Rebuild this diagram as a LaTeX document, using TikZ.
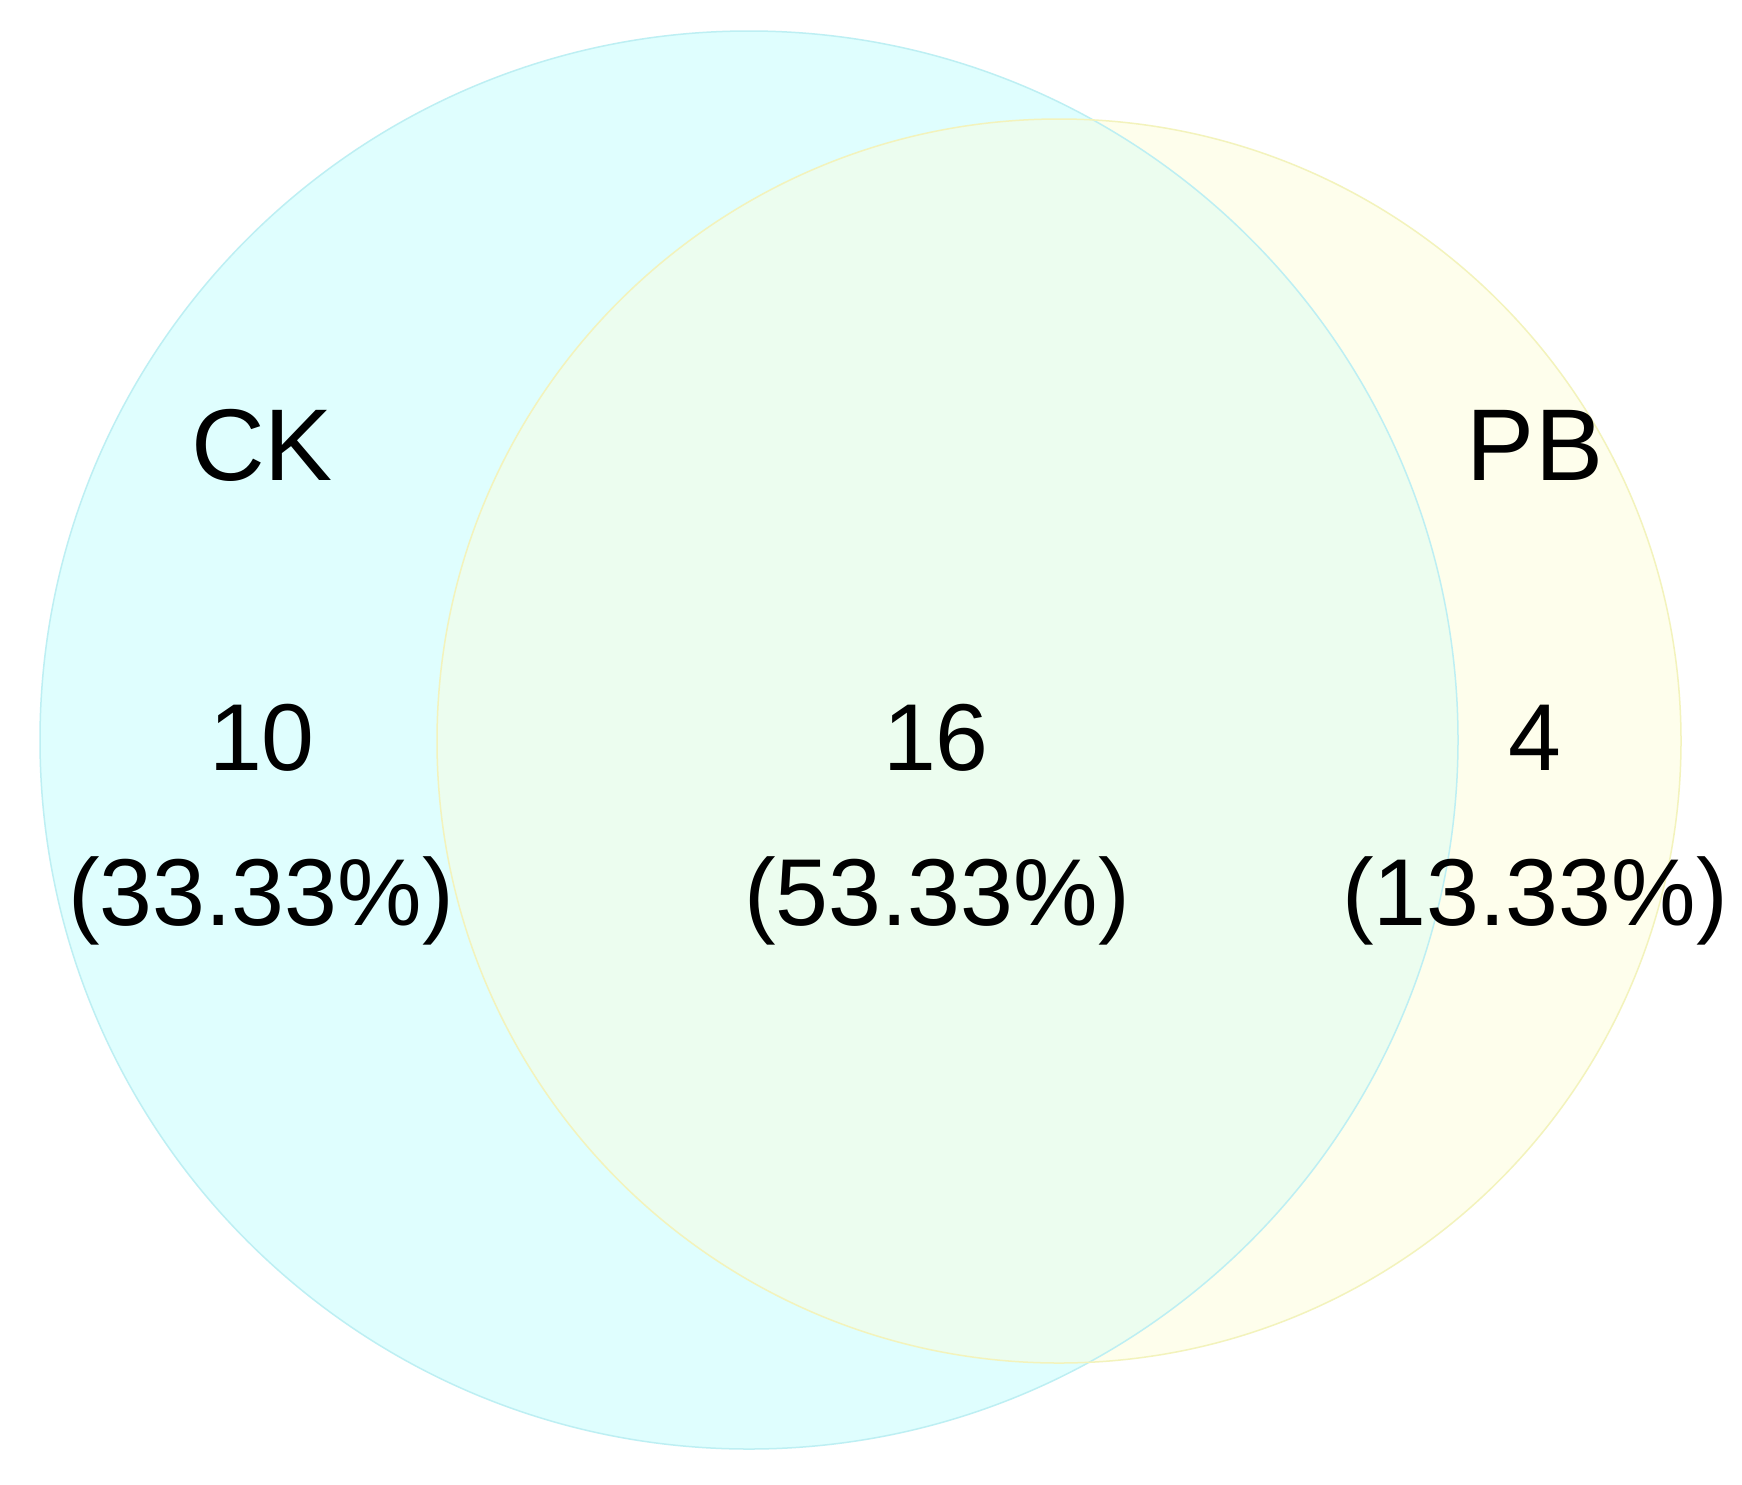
\documentclass[tikz,border=0pt]{standalone}
\usepackage{fontspec}
\setmainfont{Liberation Sans}
\definecolor{ckfill}{HTML}{DFFEFE}
\definecolor{pbfill}{HTML}{FEFEEC}
\definecolor{bothfill}{HTML}{ECFDEF}
\definecolor{ckline}{HTML}{BDEFF3}
\definecolor{pbline}{HTML}{F3F3BC}
\tikzset{
  setlabel/.style={anchor=base, inner sep=0pt, font=\fontsize{102}{110}\selectfont},
  countlabel/.style={anchor=base, inner sep=0pt, font=\fontsize{95}{105}\selectfont}
}
\begin{document}
\begin{tikzpicture}[x=1pt,y=-1pt]
\useasboundingbox (0,0) rectangle (1742,1484);
\fill[white] (0,0) rectangle (1742,1484);
\fill[ckfill] (749,740) circle[radius=709];
\fill[pbfill] (1059,741) circle[radius=622];
\begin{scope}
  \clip (749,740) circle[radius=709];
  \fill[bothfill] (1059,741) circle[radius=622];
\end{scope}
\draw[ckline, line width=1.5pt] (749,740) circle[radius=709];
\draw[pbline, line width=1.5pt] (1059,741) circle[radius=622];
\node[setlabel] (ck) at (262,480) {CK};
\node[setlabel] (pb) at (1535,480) {PB};
\node[countlabel] (n10) at (262,770) {10};
\node[countlabel] (n16) at (936,770) {16};
\node[countlabel] (n4) at (1535,770) {4};
\node[countlabel] (p10) at (261,925) {(33.33\%)};
\node[countlabel] (p16) at (937,925) {(53.33\%)};
\node[countlabel] (p4) at (1535,925) {(13.33\%)};
\end{tikzpicture}
\end{document}
